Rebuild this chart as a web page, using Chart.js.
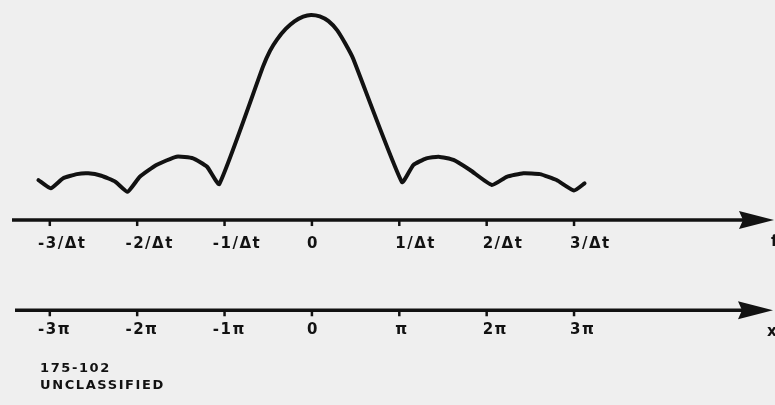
<!DOCTYPE html>
<html>
<head>
<meta charset="utf-8">
<script src="https://cdn.jsdelivr.net/npm/chart.js@4"></script>
<style>
  html, body { margin: 0; padding: 0; background: #efefef; }
  canvas { display: block; }
</style>
</head>
<body>
<canvas id="chart" width="775" height="405"></canvas>
<script>
// curve: x in units of 1/Δt, y relative to the main peak
const curveX = [-3.13, -2.99, -2.85, -2.69, -2.56, -2.41, -2.25, -2.11,
    -1.97, -1.78, -1.55, -1.36, -1.20, -1.06,
    -0.56, -0.48, -0.40, -0.30, -0.20, -0.10, -0.01, 0.09, 0.19, 0.29, 0.38, 0.47, 1.03,
    1.16, 1.31, 1.45, 1.62, 1.81, 2.06,
    2.23, 2.42, 2.61, 2.80, 3.00, 3.12];
const curveY = [0.195, 0.155, 0.203, 0.224, 0.228, 0.216, 0.187, 0.138,
    0.211, 0.268, 0.309, 0.301, 0.260, 0.176,
    0.748, 0.825, 0.880, 0.932, 0.969, 0.992, 1.000, 0.993, 0.970, 0.925, 0.862, 0.789, 0.185,
    0.268, 0.301, 0.309, 0.293, 0.244, 0.171,
    0.211, 0.228, 0.224, 0.195, 0.144, 0.179];

const tickValues = [-3, -2, -1, 0, 1, 2, 3];
const freqLabels = ['-3/Δt', '-2/Δt', '-1/Δt', '0', '1/Δt', '2/Δt', '3/Δt'];
const phaseLabels = ['-3π', '-2π', '-1π', '0', 'π', '2π', '3π'];
const noteLines = ['175-102', 'UNCLASSIFIED'];

const INK = '#121212';
const FONT = 'bold 15px "DejaVu Sans"';

function drawAxis(ctx, xScale, y, x0, x1, labels, labelDy) {
    ctx.save();
    ctx.strokeStyle = INK;
    ctx.fillStyle = INK;
    ctx.lineWidth = 3.5;
    ctx.beginPath();
    ctx.moveTo(x0, y);
    ctx.lineTo(x1 - 30, y);
    ctx.stroke();
    // arrow head
    ctx.beginPath();
    ctx.moveTo(x1, y);
    ctx.lineTo(x1 - 35, y - 9);
    ctx.lineTo(x1 - 31, y);
    ctx.lineTo(x1 - 35, y + 9);
    ctx.closePath();
    ctx.fill();

    ctx.font = FONT;
    ctx.letterSpacing = '1.5px';
    ctx.textBaseline = 'alphabetic';
    tickValues.forEach((v, i) => {
        const px = xScale.getPixelForValue(v);
        ctx.lineWidth = 2.5;
        ctx.beginPath();
        ctx.moveTo(px, y);
        ctx.lineTo(px, y + 6);
        ctx.stroke();

        const label = labels[i];
        if (label === '0') {
            ctx.textAlign = 'center';
            ctx.fillText(label, px + 1, y + labelDy);
        } else {
            const lead = label.startsWith('-') ? ctx.measureText('-').width : 0;
            ctx.textAlign = 'left';
            ctx.fillText(label, px - 4 - lead, y + labelDy);
        }
    });
    ctx.restore();
}

const axesPlugin = {
    id: 'axesPlugin',
    beforeDraw(chart) {
        const ctx = chart.ctx;
        ctx.save();
        ctx.fillStyle = '#efefef';
        ctx.fillRect(0, 0, chart.width, chart.height);
        ctx.restore();
    },
    afterDraw(chart) {
        const ctx = chart.ctx;
        const xScale = chart.scales.x;
        const yScale = chart.scales.y;
        const topY = yScale.getPixelForValue(0);
        const botY = yScale.getPixelForValue(-0.44);

        drawAxis(ctx, xScale, topY, 12, 774, freqLabels, 28);
        drawAxis(ctx, xScale, botY, 15, 773, phaseLabels, 24);

        ctx.save();
        ctx.fillStyle = INK;
        ctx.font = FONT;
        ctx.textAlign = 'left';
        ctx.fillText('f', 771, topY + 26);
        ctx.fillText('x', 767, botY + 26);

        ctx.font = 'bold 13px "DejaVu Sans"';
        ctx.letterSpacing = '1.6px';
        ctx.fillText(noteLines[0], 40, 372);
        ctx.fillText(noteLines[1], 40, 389);
        ctx.restore();
    }
};

new Chart(document.getElementById('chart'), {
    type: 'line',
    data: {
        datasets: [{
            data: curveX.map((x, i) => ({ x: x, y: curveY[i] })),
            borderColor: INK,
            borderWidth: 4,
            borderJoinStyle: 'round',
            borderCapStyle: 'round',
            pointRadius: 0,
            tension: 0.15,
            fill: false,
        }],
    },
    options: {
        responsive: false,
        animation: false,
        devicePixelRatio: 1,
        layout: { padding: 0 },
        plugins: {
            legend: { display: false },
            tooltip: { enabled: false },
        },
        scales: {
            x: { type: 'linear', min: -3.57, max: 5.30, display: false },
            y: { min: -0.902, max: 1.073, display: false },
        },
    },
    plugins: [axesPlugin],
});
</script>
</body>
</html>
